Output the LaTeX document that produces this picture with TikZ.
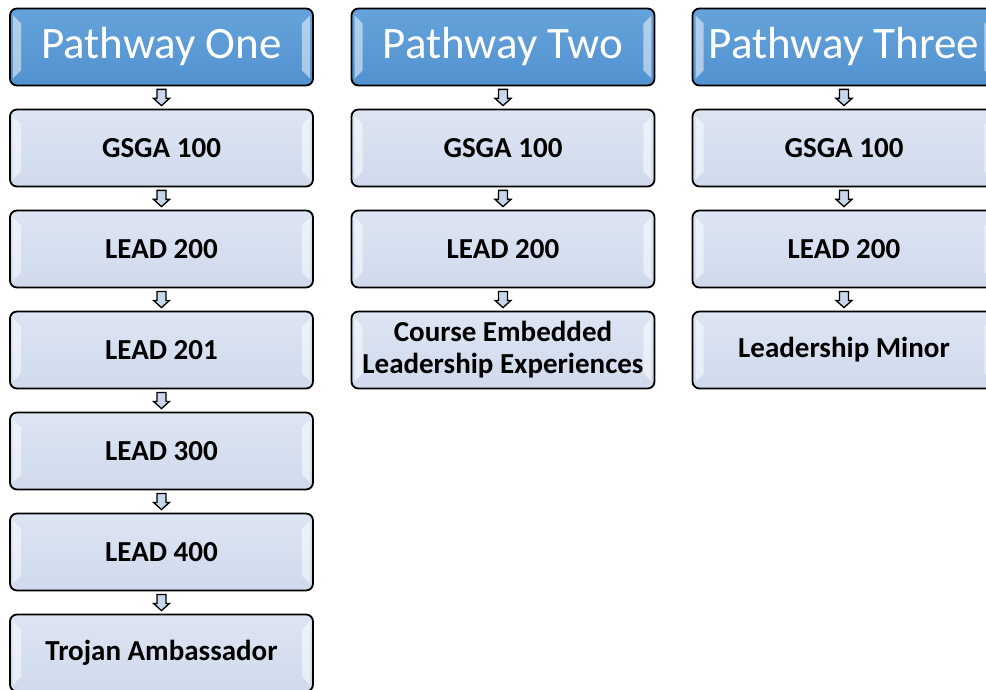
\documentclass[tikz,border=0pt]{standalone}
\usepackage{fontspec}
\setmainfont{Carlito}
\usetikzlibrary{calc}
\definecolor{hdrtop}{HTML}{66A3DA}
\definecolor{hdrbot}{HTML}{5192D0}
\definecolor{bxtop}{HTML}{DDE5F3}
\definecolor{bxbot}{HTML}{D0DAEC}
\definecolor{arrfill}{HTML}{C8D6EC}
\tikzset{
  base/.style={rectangle, rounded corners=7pt, draw=black, line width=1.8pt,
    minimum width=303pt, minimum height=77pt, inner sep=0pt, align=center},
  header/.style={base, top color=hdrtop, bottom color=hdrbot, text=white,
    font=\fontsize{45}{48}\selectfont},
  course/.style={base, top color=bxtop, bottom color=bxbot, text=black,
    font=\bfseries\fontsize{29}{32}\selectfont},
  bevel/.style={fill=white, opacity=0.5},
  blockarrow/.style={fill=arrfill, draw=black, line width=1.3pt, line join=miter}
}
\newcommand{\bevels}[1]{%
  \fill[bevel] ([xshift=4pt,yshift=-8pt]#1.north west) -- ([xshift=12pt,yshift=-16pt]#1.north west)
     -- ([xshift=12pt,yshift=16pt]#1.south west) -- ([xshift=4pt,yshift=8pt]#1.south west) -- cycle;
  \fill[bevel] ([xshift=-4pt,yshift=-8pt]#1.north east) -- ([xshift=-12pt,yshift=-16pt]#1.north east)
     -- ([xshift=-12pt,yshift=16pt]#1.south east) -- ([xshift=-4pt,yshift=8pt]#1.south east) -- cycle;
}
\newcommand{\flowarrow}[2]{%
  \draw[blockarrow] let \p1=(#1.south), \p2=(#2.north) in
    (\x1-4.5pt,\y1-3pt) -- (\x1+4.5pt,\y1-3pt) -- (\x1+4.5pt,\y1-12pt) -- (\x1+8pt,\y1-12pt)
    -- (\x1,\y2+3pt) -- (\x1-8pt,\y1-12pt) -- (\x1-4.5pt,\y1-12pt) -- cycle;
}
\begin{document}
\begin{tikzpicture}[x=1pt,y=-1pt]
\useasboundingbox (0,0) rectangle (986,690);
\clip (0,0) rectangle (986,690);
% column one
\node[header] (h1) at (161.5,47) {Pathway One};
\node[course] (a1) at (161.5,148) {GSGA 100};
\node[course] (a2) at (161.5,249) {LEAD 200};
\node[course] (a3) at (161.5,350) {LEAD 201};
\node[course] (a4) at (161.5,451) {LEAD 300};
\node[course] (a5) at (161.5,552) {LEAD 400};
\node[course] (a6) at (161.5,653) {Trojan Ambassador};
% column two
\node[header] (h2) at (503,47) {Pathway Two};
\node[course] (b1) at (503,148) {GSGA 100};
\node[course] (b2) at (503,249) {LEAD 200};
\node[course] (b3) at (503,350) {Course Embedded\\Leadership Experiences};
% column three
\node[header] (h3) at (844,47) {Pathway Three};
\node[course] (c1) at (844,148) {GSGA 100};
\node[course] (c2) at (844,249) {LEAD 200};
\node[course] (c3) at (844,350) {Leadership Minor};
% bevels
\foreach \n in {h1,a1,a2,a3,a4,a5,a6,h2,b1,b2,b3,h3,c1,c2,c3} {\bevels{\n}}
% arrows
\flowarrow{h1}{a1}
\flowarrow{a1}{a2}
\flowarrow{a2}{a3}
\flowarrow{a3}{a4}
\flowarrow{a4}{a5}
\flowarrow{a5}{a6}
\flowarrow{h2}{b1}
\flowarrow{b1}{b2}
\flowarrow{b2}{b3}
\flowarrow{h3}{c1}
\flowarrow{c1}{c2}
\flowarrow{c2}{c3}
\end{tikzpicture}
\end{document}
